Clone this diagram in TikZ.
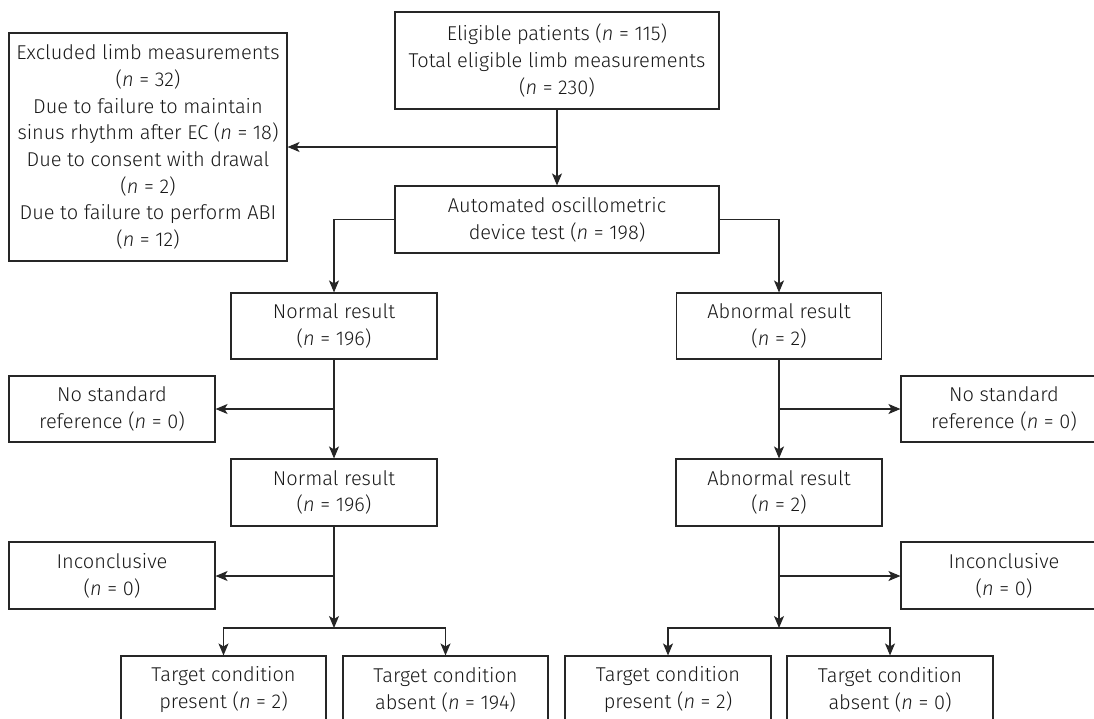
\documentclass[tikz,border=0pt]{standalone}
\usepackage{fontspec}
\setmainfont{Fira Sans}[UprightFont=* Light, ItalicFont=* Light Italic, BoldFont=* Medium]
\usetikzlibrary{arrows.meta}
\newcommand{\nn}{\textit{n}}
\begin{document}
\begin{tikzpicture}[x=1pt,y=-1pt,
  box/.style={draw=black!85, line width=1.1pt, align=center, inner sep=0pt,
    font=\fontsize{20}{26.7}\selectfont, text=black!90},
  conn/.style={draw=black!85, line width=1.1pt},
  arr/.style={conn, -{Stealth[length=12pt,width=10pt,inset=3pt]}}]
\useasboundingbox (0,0) rectangle (1094,718);
% nodes
\node[box, minimum width=324pt, minimum height=97pt] (top) at (557,60.5)
  {Eligible patients (\nn{} = 115)\\Total eligible limb measurements\\(\nn{} = 230)};
\node[box, minimum width=278pt, minimum height=228pt] (excl) at (148,147)
  {Excluded limb measurements\\(\nn{} = 32)\\Due to failure to maintain\\sinus rhythm after EC (\nn{} = 18)\\Due to consent with drawal\\(\nn{} = 2)\\Due to failure to perform ABI\\(\nn{} = 12)};
\node[box, minimum width=324pt, minimum height=67pt] (auto) at (557,219.5)
  {Automated oscillometric\\device test (\nn{} = 198)};
\node[box, minimum width=206pt, minimum height=66pt] (norm1) at (334,326)
  {Normal result\\(\nn{} = 196)};
\node[box, minimum width=205pt, minimum height=66pt] (abn1) at (779,326)
  {Abnormal result\\(\nn{} = 2)};
\node[box, minimum width=206pt, minimum height=66pt] (nsrL) at (112,409)
  {No standard\\reference (\nn{} = 0)};
\node[box, minimum width=206pt, minimum height=66pt] (nsrR) at (1004,409)
  {No standard\\reference (\nn{} = 0)};
\node[box, minimum width=206pt, minimum height=67pt] (norm2) at (334,492.5)
  {Normal result\\(\nn{} = 196)};
\node[box, minimum width=206pt, minimum height=67pt] (abn2) at (779,492.5)
  {Abnormal result\\(\nn{} = 2)};
\node[box, minimum width=206pt, minimum height=67pt] (incL) at (112,575.5)
  {Inconclusive\\(\nn{} = 0)};
\node[box, minimum width=206pt, minimum height=67pt] (incR) at (1004,575.5)
  {Inconclusive\\(\nn{} = 0)};
\node[box, minimum width=205pt, minimum height=67pt] (tpL) at (223.5,689.5)
  {Target condition\\present (\nn{} = 2)};
\node[box, minimum width=205pt, minimum height=67pt] (taL) at (445.5,689.5)
  {Target condition\\absent (\nn{} = 194)};
\node[box, minimum width=206pt, minimum height=67pt] (tpR) at (668,689.5)
  {Target condition\\present (\nn{} = 2)};
\node[box, minimum width=206pt, minimum height=67pt] (taR) at (890,689.5)
  {Target condition\\absent (\nn{} = 0)};
% junction coordinates
\coordinate (j0) at (557,147);
\coordinate (jL1) at (334,409);
\coordinate (jR1) at (779,409);
\coordinate (jL2) at (334,576);
\coordinate (jR2) at (779,576);
\coordinate (bL) at (334,628);
\coordinate (bR) at (779,628);
% connectors
\draw[arr] (top.south) -- (auto.north);
\draw[arr] (j0) -- (excl.east |- j0);
\draw[arr] (auto.west) -| (norm1.north);
\draw[arr] (auto.east) -| (abn1.north);
\draw[arr] (norm1.south) -- (norm2.north);
\draw[arr] (jL1) -- (nsrL.east |- jL1);
\draw[arr] (abn1.south) -- (abn2.north);
\draw[arr] (jR1) -- (nsrR.west |- jR1);
\draw[arr] (norm2.south) -- (bL);
\draw[arr] (jL2) -- (incL.east |- jL2);
\draw[arr] (abn2.south) -- (bR);
\draw[arr] (jR2) -- (incR.west |- jR2);
\draw[arr] (bL) -- (bL -| tpL.north) -- (tpL.north);
\draw[arr] (bL) -- (bL -| taL.north) -- (taL.north);
\draw[arr] (bR) -- (bR -| tpR.north) -- (tpR.north);
\draw[arr] (bR) -- (bR -| taR.north) -- (taR.north);
\end{tikzpicture}
\end{document}
